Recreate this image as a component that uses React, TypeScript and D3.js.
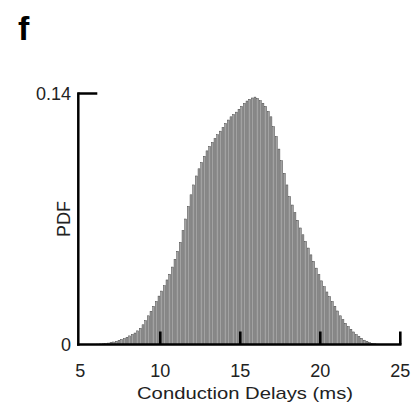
import React from "react";
import * as d3 from "d3";

const binStart = 5;
const binWidth = 1 / 6;
const pdfValues = [
  0, 0, 0, 0, 0, 0.0001, 0.0002, 0.0003, 0.0004, 0.0006,
  0.0008, 0.0011, 0.0014, 0.0018, 0.0023, 0.0028, 0.0033, 0.004, 0.0048, 0.0056,
  0.0064, 0.0076, 0.009, 0.011, 0.0133, 0.016, 0.0185, 0.0213, 0.024, 0.027,
  0.0298, 0.0328, 0.036, 0.0392, 0.0432, 0.0475, 0.052, 0.057, 0.0635, 0.07,
  0.077, 0.0835, 0.089, 0.094, 0.098, 0.1015, 0.105, 0.108, 0.1105, 0.1127,
  0.1148, 0.117, 0.119, 0.121, 0.1233, 0.1252, 0.127, 0.1283, 0.1296, 0.1312,
  0.1328, 0.1345, 0.1358, 0.1368, 0.1375, 0.138, 0.1372, 0.136, 0.1345, 0.1328,
  0.13, 0.127, 0.1215, 0.116, 0.109, 0.1025, 0.0955, 0.089, 0.0825, 0.0778,
  0.0735, 0.0693, 0.065, 0.0612, 0.0575, 0.0538, 0.05, 0.0464, 0.0426, 0.039,
  0.0355, 0.0322, 0.0293, 0.0267, 0.024, 0.0213, 0.0187, 0.016, 0.0138, 0.0118,
  0.01, 0.0085, 0.007, 0.0055, 0.0045, 0.0035, 0.0024, 0.0017, 0.0011, 0.0007,
  0.0004, 0.0002, 0.0001, 0, 0, 0, 0, 0, 0, 0,
];
const xTicks = [5, 10, 15, 20, 25];
const yTickLabels = ["0", "0.14"];
const yTickValues = [0, 0.14];
const xLabel = "Conduction Delays (ms)";
const yLabel = "PDF";
const panelLabel = "f";

export default function App() {
  const W = 419;
  const H = 406;
  const x = d3.scaleLinear().domain([5, 25]).range([80.3, 400.3]);
  const y = d3.scaleLinear().domain([0, 0.14]).range([344.5, 93.5]);
  const font = "'Liberation Sans', Arial, Helvetica, sans-serif";
  const axisX = x(5) - 2;
  const bw = x(binStart + binWidth) - x(binStart);

  return (
    <svg
      width={W}
      height={H}
      style={{ position: "absolute", left: 0, top: 0, background: "#fff" }}
      fontFamily={font}
    >
      <text x={18} y={40} fontSize={34} fontWeight="bold" fill="#000">
        {panelLabel}
      </text>
      <g>
        {pdfValues.map((v, i) =>
          v > 0 ? (
            <rect
              key={i}
              x={x(binStart + i * binWidth) + 0.4}
              y={y(v)}
              width={bw - 0.8}
              height={y(0) - y(v)}
              fill="#a2a2a2"
              stroke="#3a3a3a"
              strokeWidth={0.45}
            />
          ) : null
        )}
      </g>
      {/* y axis */}
      <line x1={axisX} x2={axisX} y1={y(0.14) - 1.2} y2={y(0) + 1.2} stroke="#000" strokeWidth={2.5} />
      <line x1={axisX} x2={axisX + 19} y1={y(0.14)} y2={y(0.14)} stroke="#000" strokeWidth={2.5} />
      {/* x axis */}
      <line x1={axisX - 1.2} x2={x(25) + 1.2} y1={y(0)} y2={y(0)} stroke="#000" strokeWidth={2.7} />
      {xTicks.slice(1).map((t) => (
        <line key={t} x1={x(t)} x2={x(t)} y1={y(0)} y2={y(0) - 13} stroke="#000" strokeWidth={2.6} />
      ))}
      {xTicks.map((t) => (
        <text key={"l" + t} x={x(t)} y={377} fontSize={18} textAnchor="middle" fill="#222">
          {t}
        </text>
      ))}
      {yTickValues.map((v, i) => (
        <text key={"y" + i} x={71} y={y(v) + 6.5} fontSize={18} textAnchor="end" fill="#222">
          {yTickLabels[i]}
        </text>
      ))}
      <text
        x={137}
        y={399}
        fontSize={17}
        textLength={216}
        lengthAdjust="spacingAndGlyphs"
        fill="#222"
      >
        {xLabel}
      </text>
      <text
        transform={`translate(70,219) rotate(-90)`}
        fontSize={18}
        textAnchor="middle"
        fill="#222"
      >
        {yLabel}
      </text>
    </svg>
  );
}
